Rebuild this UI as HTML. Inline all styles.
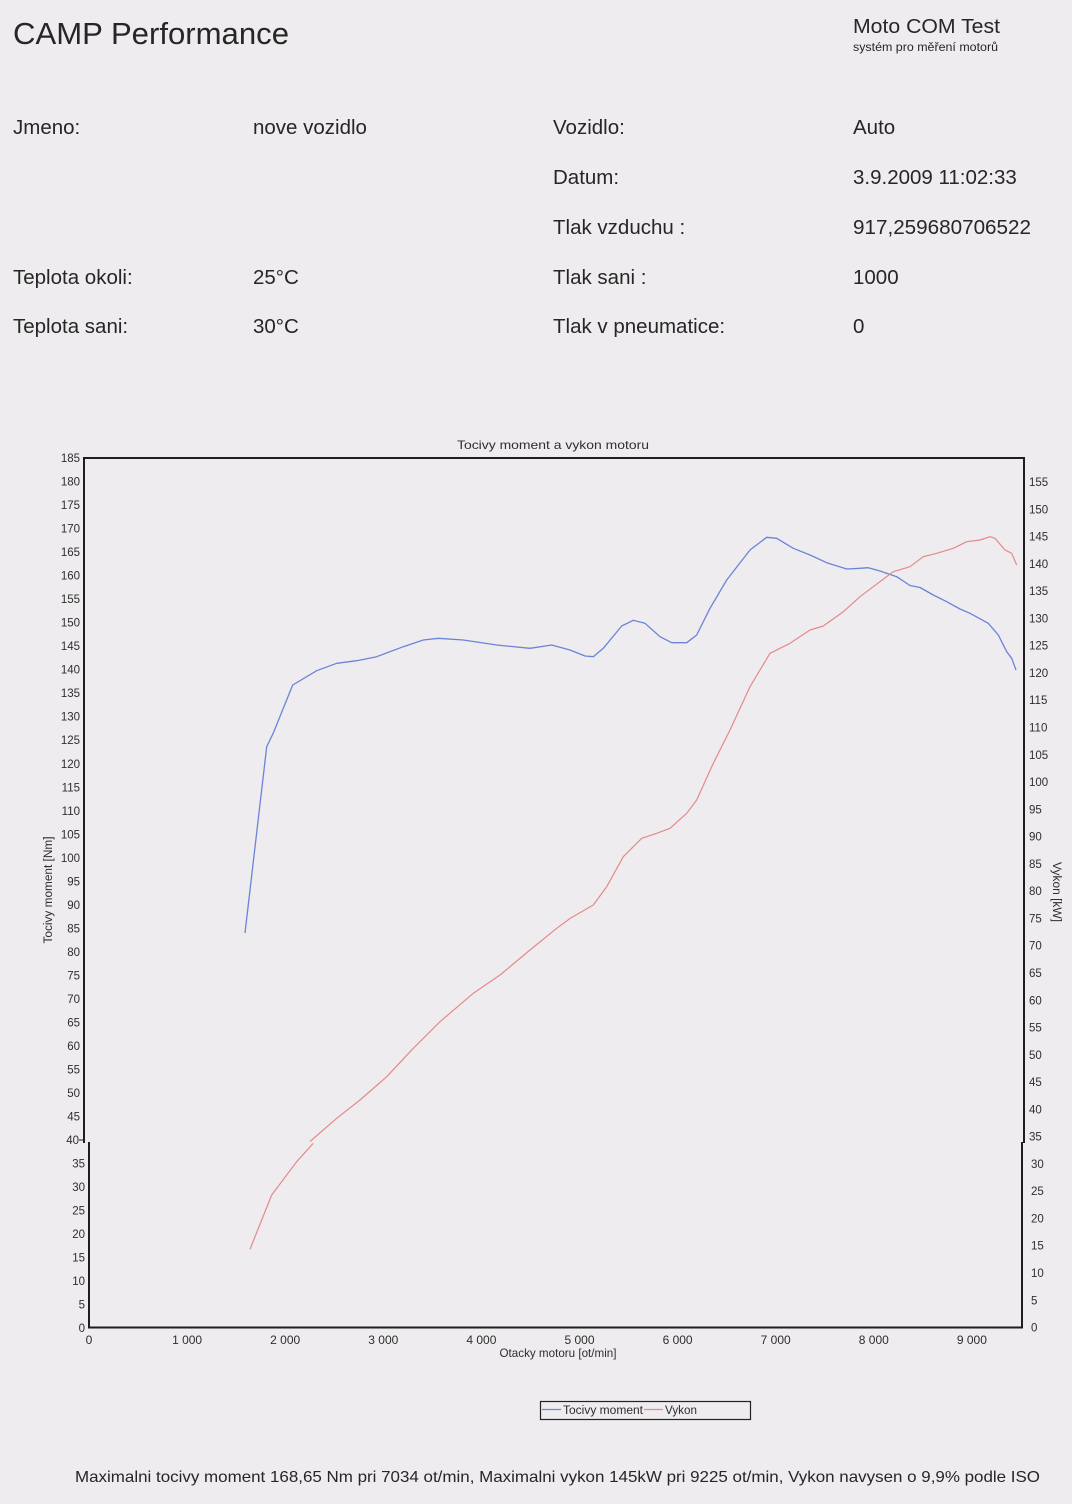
<!DOCTYPE html>
<html>
<head>
<meta charset="utf-8">
<style>
  html, body { margin:0; padding:0; background:#eeecee; }
  svg { display:block; }
  text { font-family: "Liberation Sans", "DejaVu Sans", sans-serif; fill:#262626; }
  .hd { font-size:20.5px; }
  .tk { font-size:11.5px; fill:#2e2e2e; }
  .tx { font-size:12px; fill:#2e2e2e; }
</style>
</head>
<body>
<svg width="1072" height="1504" viewBox="0 0 1072 1504" xmlns="http://www.w3.org/2000/svg">
  <rect x="0" y="0" width="1072" height="1504" fill="#eeecee"/>

  <!-- Header -->
  <text x="13" y="44" style="font-size:31px" textLength="276" lengthAdjust="spacingAndGlyphs">CAMP Performance</text>
  <text x="853" y="33" style="font-size:20.5px" textLength="147" lengthAdjust="spacingAndGlyphs">Moto COM Test</text>
  <text x="853" y="51" style="font-size:11.5px" textLength="145" lengthAdjust="spacingAndGlyphs">systém pro měření motorů</text>

  <text class="hd" x="13" y="134">Jmeno:</text>
  <text class="hd" x="253" y="134">nove vozidlo</text>
  <text class="hd" x="553" y="134">Vozidlo:</text>
  <text class="hd" x="853" y="134">Auto</text>

  <text class="hd" x="553" y="184">Datum:</text>
  <text class="hd" x="853" y="184">3.9.2009 11:02:33</text>

  <text class="hd" x="553" y="234">Tlak vzduchu :</text>
  <text class="hd" x="853" y="234" textLength="178" lengthAdjust="spacingAndGlyphs">917,259680706522</text>

  <text class="hd" x="13" y="284">Teplota okoli:</text>
  <text class="hd" x="253" y="284">25°C</text>
  <text class="hd" x="553" y="284">Tlak sani :</text>
  <text class="hd" x="853" y="284">1000</text>

  <text class="hd" x="13" y="333">Teplota sani:</text>
  <text class="hd" x="253" y="333">30°C</text>
  <text class="hd" x="553" y="333">Tlak v pneumatice:</text>
  <text class="hd" x="853" y="333">0</text>

  <!-- Chart title -->
  <text x="553" y="449" class="tx" text-anchor="middle" textLength="192" lengthAdjust="spacingAndGlyphs">Tocivy moment a vykon motoru</text>

  <!-- Frame -->
  <g stroke="#1e1e1e" stroke-width="2" fill="none">
    <line x1="83" y1="458" x2="1025" y2="458"/>
    <line x1="84" y1="457" x2="84" y2="1143"/>
    <line x1="1024" y1="457" x2="1024" y2="1143"/>
    <line x1="89" y1="1142" x2="89" y2="1328"/>
    <line x1="1022" y1="1142" x2="1022" y2="1328"/>
    <line x1="88" y1="1327.5" x2="1023" y2="1327.5"/>
    <line x1="79" y1="1140" x2="84" y2="1140" stroke-width="1"/>
  </g>

  <!-- Left ticks top (185..40) -->
  <g class="tk" text-anchor="end">
    <text class="tk" x="80" y="462">185</text>
    <text class="tk" x="80" y="485.5">180</text>
    <text class="tk" x="80" y="509">175</text>
    <text class="tk" x="80" y="532.6">170</text>
    <text class="tk" x="80" y="556.1">165</text>
    <text class="tk" x="80" y="579.6">160</text>
    <text class="tk" x="80" y="603.1">155</text>
    <text class="tk" x="80" y="626.6">150</text>
    <text class="tk" x="80" y="650.2">145</text>
    <text class="tk" x="80" y="673.7">140</text>
    <text class="tk" x="80" y="697.2">135</text>
    <text class="tk" x="80" y="720.7">130</text>
    <text class="tk" x="80" y="744.2">125</text>
    <text class="tk" x="80" y="767.8">120</text>
    <text class="tk" x="80" y="791.3">115</text>
    <text class="tk" x="80" y="814.8">110</text>
    <text class="tk" x="80" y="838.3">105</text>
    <text class="tk" x="80" y="861.8">100</text>
    <text class="tk" x="80" y="885.4">95</text>
    <text class="tk" x="80" y="908.9">90</text>
    <text class="tk" x="80" y="932.4">85</text>
    <text class="tk" x="80" y="955.9">80</text>
    <text class="tk" x="80" y="979.4">75</text>
    <text class="tk" x="80" y="1003">70</text>
    <text class="tk" x="80" y="1026.5">65</text>
    <text class="tk" x="80" y="1050">60</text>
    <text class="tk" x="80" y="1073.5">55</text>
    <text class="tk" x="80" y="1097">50</text>
    <text class="tk" x="80" y="1120.6">45</text>
    <text class="tk" x="79" y="1144">40</text>
  </g>
  <!-- Left ticks bottom (35..0) -->
  <g text-anchor="end">
    <text class="tk" x="85" y="1167.5">35</text>
    <text class="tk" x="85" y="1191">30</text>
    <text class="tk" x="85" y="1214.5">25</text>
    <text class="tk" x="85" y="1238">20</text>
    <text class="tk" x="85" y="1261.5">15</text>
    <text class="tk" x="85" y="1285">10</text>
    <text class="tk" x="85" y="1308.5">5</text>
    <text class="tk" x="85" y="1332">0</text>
  </g>

  <!-- Right ticks (155..0) -->
  <g>
    <text class="tk" x="1029" y="486">155</text>
    <text class="tk" x="1029" y="513.3">150</text>
    <text class="tk" x="1029" y="540.6">145</text>
    <text class="tk" x="1029" y="567.9">140</text>
    <text class="tk" x="1029" y="595.1">135</text>
    <text class="tk" x="1029" y="622.4">130</text>
    <text class="tk" x="1029" y="649.7">125</text>
    <text class="tk" x="1029" y="677">120</text>
    <text class="tk" x="1029" y="704.2">115</text>
    <text class="tk" x="1029" y="731.5">110</text>
    <text class="tk" x="1029" y="758.8">105</text>
    <text class="tk" x="1029" y="786.1">100</text>
    <text class="tk" x="1029" y="813.3">95</text>
    <text class="tk" x="1029" y="840.6">90</text>
    <text class="tk" x="1029" y="867.9">85</text>
    <text class="tk" x="1029" y="895.2">80</text>
    <text class="tk" x="1029" y="922.4">75</text>
    <text class="tk" x="1029" y="949.7">70</text>
    <text class="tk" x="1029" y="977">65</text>
    <text class="tk" x="1029" y="1004.3">60</text>
    <text class="tk" x="1029" y="1031.5">55</text>
    <text class="tk" x="1029" y="1058.8">50</text>
    <text class="tk" x="1029" y="1086.1">45</text>
    <text class="tk" x="1029" y="1113.4">40</text>
    <text class="tk" x="1029" y="1140.6">35</text>
    <text class="tk" x="1031" y="1167.9">30</text>
    <text class="tk" x="1031" y="1195.2">25</text>
    <text class="tk" x="1031" y="1222.5">20</text>
    <text class="tk" x="1031" y="1249.7">15</text>
    <text class="tk" x="1031" y="1277">10</text>
    <text class="tk" x="1031" y="1304.3">5</text>
    <text class="tk" x="1031" y="1331.5">0</text>
  </g>

  <!-- X ticks -->
  <g text-anchor="middle">
    <text class="tx" x="89" y="1344">0</text>
    <text class="tx" x="187.1" y="1344">1 000</text>
    <text class="tx" x="285.2" y="1344">2 000</text>
    <text class="tx" x="383.3" y="1344">3 000</text>
    <text class="tx" x="481.4" y="1344">4 000</text>
    <text class="tx" x="579.5" y="1344">5 000</text>
    <text class="tx" x="677.6" y="1344">6 000</text>
    <text class="tx" x="775.7" y="1344">7 000</text>
    <text class="tx" x="873.8" y="1344">8 000</text>
    <text class="tx" x="971.9" y="1344">9 000</text>
  </g>
  <text class="tx" x="558" y="1357" text-anchor="middle" textLength="117" lengthAdjust="spacingAndGlyphs">Otacky motoru [ot/min]</text>

  <!-- Axis titles -->
  <text class="tk" x="52" y="890" text-anchor="middle" transform="rotate(-90 52 890)" textLength="107" lengthAdjust="spacingAndGlyphs">Tocivy moment [Nm]</text>
  <text class="tk" x="1053" y="892" text-anchor="middle" transform="rotate(90 1053 892)" textLength="60" lengthAdjust="spacingAndGlyphs">Vykon [kW]</text>

  <!-- Torque (blue) -->
  <polyline fill="none" stroke="#6b84d6" stroke-width="1.3" stroke-linejoin="round" points="
    245,933 266.7,746.7 273.3,733 292.7,685 316.7,670.7 336.7,663.3 356.7,660.7 376.7,656.7
    403.3,646.7 423.3,640 438.3,638.3 463.3,640 496.7,645 530,648.3 551.7,645 570,650
    585,656 593.3,656.7 603.3,648.3 621.7,626 633.3,620.3 645,623.3 660,636.7 671.7,642.7
    686.7,642.7 696.7,635 710,608.3 726.7,580 750,550 766.7,537.3 776.7,538.3 793.3,548.3
    810,555 826.7,562.7 846.7,569 860,568.3 868.3,567.7 880,571 896.7,576.7 910,585.5
    920,587.5 933.3,595 946.7,601.7 960,609 970,613.3 988.3,623.3 998.3,635 1006.7,651.7
    1011.7,658.3 1016,670"/>

  <!-- Power (red) -->
  <polyline fill="none" stroke="#e48a8a" stroke-width="1.2" stroke-linejoin="round" points="
    250,1249.3 271.7,1195 296.7,1161.7 311.7,1145 313.3,1143.3"/>
  <polyline fill="none" stroke="#e48a8a" stroke-width="1.2" stroke-linejoin="round" points="
    310,1141.5 336.7,1118.3 360,1100 386.7,1076.7 413.3,1048.3 440,1021.7 473.3,993.3
    500,975 530,950 556.7,928.3 570,918.5 593.3,905 606.7,886.7 623.3,856.7 641.7,838.3
    656.7,833.3 670,828.3 686.7,813.3 696.7,800 713.3,763.3 730,730 750,686.7 770,653.3
    790,643.3 810,630 823.3,626 843.3,611.7 860,596.7 873.3,586.7 893.3,571.7 910,566.7
    923.3,556.7 936.7,553.3 953.3,548.3 966.7,541.7 980,540 990,536.7 995,538.3 1005,550
    1011.7,553.3 1016.7,565"/>

  <!-- Legend -->
  <rect x="540.5" y="1401.5" width="210" height="18" fill="none" stroke="#222" stroke-width="1.2"/>
  <line x1="542" y1="1409.5" x2="561" y2="1409.5" stroke="#6b84d6" stroke-width="1.3"/>
  <text class="tk" x="563" y="1414" textLength="80" lengthAdjust="spacingAndGlyphs">Tocivy moment</text>
  <line x1="644" y1="1409.5" x2="663" y2="1409.5" stroke="#e48a8a" stroke-width="1.3"/>
  <text class="tk" x="665" y="1414" textLength="32" lengthAdjust="spacingAndGlyphs">Vykon</text>

  <!-- Footer -->
  <text x="75" y="1482" style="font-size:16px" textLength="965" lengthAdjust="spacingAndGlyphs">Maximalni tocivy moment 168,65 Nm pri 7034 ot/min,  Maximalni vykon 145kW pri 9225 ot/min,  Vykon navysen o 9,9% podle ISO</text>
</svg>
</body>
</html>
